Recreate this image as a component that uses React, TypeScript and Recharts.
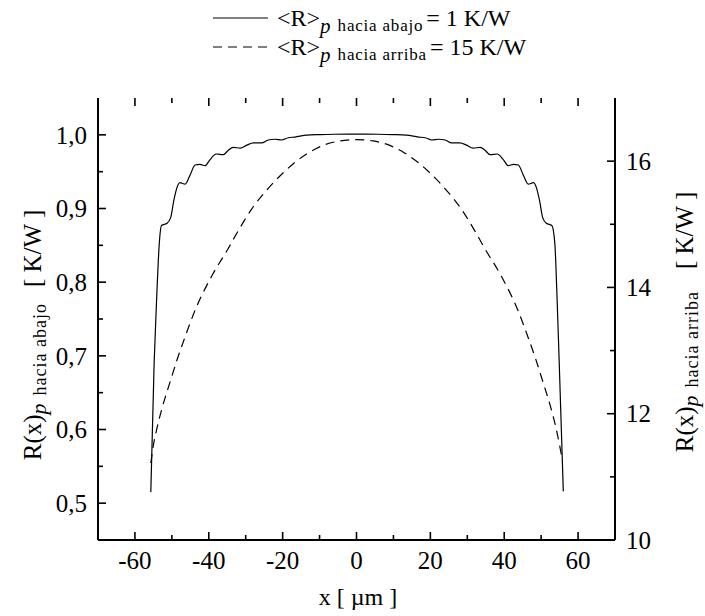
import { Customized, Line, LineChart, XAxis, YAxis } from "recharts"

// R(x) hacia abajo (eje izquierdo)
const xAbajo = [
	-55.7, -54.8, -54.1, -53.4, -52.8, -51.3, -50.3, -49.5, -48.7, -47.8, -46.4, -45.1, -43.7, -42.4, -41.0, -39.7, -38.0,
	-36.1, -34.7, -33.4, -31.5, -29.7, -27.9, -25.7, -23.9, -22.1, -20.3, -18.5, -16.7, -13.5, -10, -6, 0, 6, 10, 13.5,
	16.8, 18.6, 20.4, 22.2, 24.0, 25.8, 28.0, 29.8, 31.6, 33.5, 34.8, 36.2, 38.1, 39.8, 41.1, 42.5, 43.8, 45.2, 46.5, 47.9,
	48.8, 49.6, 50.4, 51.4, 52.9, 53.7, 54.3, 54.9, 56.0,
]
const rAbajo = [
	0.515, 0.69, 0.78, 0.853, 0.877, 0.88, 0.888, 0.91, 0.927, 0.935, 0.933, 0.945, 0.959, 0.96, 0.958, 0.966, 0.974, 0.973,
	0.979, 0.983, 0.982, 0.986, 0.989, 0.989, 0.993, 0.994, 0.993, 0.996, 0.997, 0.9995, 1.0003, 1.0008, 1.001, 1.0008,
	1.0003, 0.9995, 0.997, 0.996, 0.993, 0.994, 0.993, 0.989, 0.989, 0.986, 0.982, 0.983, 0.979, 0.973, 0.974, 0.966, 0.958,
	0.96, 0.959, 0.945, 0.933, 0.935, 0.927, 0.91, 0.888, 0.88, 0.877, 0.853, 0.78, 0.69, 0.516,
]

// R(x) hacia arriba (eje derecho)
const xArriba = [
	-55.7, -55.0, -54.0, -52.5, -50.5, -48.5, -46.4, -43.7, -39.2, -34.7, -32.0, -28.4, -23.9, -19.4, -17.1, -13.0, -9.0,
	-4.5, 0, 4.5, 9.0, 13.0, 17.1, 19.4, 23.9, 28.4, 32.0, 34.7, 39.2, 43.7, 46.4, 48.5, 50.5, 52.5, 54.0, 55.0, 55.8,
]
const rArriba = [
	11.22, 11.5, 11.78, 12.12, 12.5, 12.87, 13.22, 13.64, 14.18, 14.62, 14.9, 15.24, 15.57, 15.84, 15.96, 16.13, 16.25,
	16.32, 16.34, 16.32, 16.25, 16.13, 15.96, 15.84, 15.57, 15.24, 14.9, 14.62, 14.18, 13.64, 13.22, 12.87, 12.5, 12.12,
	11.78, 11.5, 11.25,
]

const xTicks = [-60, -50, -40, -30, -20, -10, 0, 10, 20, 30, 40, 50, 60]
const leftTicks = [0.5, 0.55, 0.6, 0.65, 0.7, 0.75, 0.8, 0.85, 0.9, 0.95, 1.0]
const rightTicks = [10, 11, 12, 13, 14, 15, 16]

const X_DOMAIN = [-70, 70]
const L_DOMAIN = [0.45, 1.05]
const R_DOMAIN = [10, 17]

const abajo = xAbajo.map((x, i) => ({ x, r: rAbajo[i] }))
const arriba = xArriba.map((x, i) => ({ x, r: rArriba[i] }))

const FONT = '"Liberation Serif", "Times New Roman", Times, serif'
const MARGIN = 11
const axisStyle = { stroke: "#000", strokeWidth: 2 }

// plot box that follows from the chart margins and axis sizes below
const W = 705
const H = 616
const TOP = 98
const LEFT_W = 98
const RIGHT_W = 90
const BOTTOM_H = 76
const PLOT = { left: LEFT_W, right: W - RIGHT_W, top: TOP, bottom: H - BOTTOM_H }

const MAJOR = 8
const MINOR = 5
const isMajorX = (v: number) => v % 20 === 0
const isMajorL = (v: number) => Math.round(v * 100) % 10 === 0
const isMajorR = (v: number) => v % 2 === 0

const lin = (d: number[], r0: number, r1: number) => (v: number) => r0 + ((v - d[0]) / (d[1] - d[0])) * (r1 - r0)
const sx = lin(X_DOMAIN, PLOT.left, PLOT.right)
const sL = lin(L_DOMAIN, PLOT.bottom, PLOT.top)
const sR = lin(R_DOMAIN, PLOT.bottom, PLOT.top)

function BottomTick(props: any) {
	const { x, y, payload } = props
	const v = payload.value
	if (!isMajorX(v)) return <g />
	return (
		<text x={x} y={y} dy="0.71em" textAnchor="middle" fontSize={25} fontFamily={FONT} fill="#000">
			{v}
		</text>
	)
}

function LeftTick(props: any) {
	const { x, y, payload } = props
	const v = payload.value
	if (!isMajorL(v)) return <g />
	return (
		<text x={x} y={y} dy="0.35em" textAnchor="end" fontSize={25} fontFamily={FONT} fill="#000">
			{v.toFixed(1).replace(".", ",")}
		</text>
	)
}

function RightTick(props: any) {
	const { x, y, payload } = props
	const v = payload.value
	if (!isMajorR(v)) return <g />
	return (
		<text x={x} y={y} dy="0.35em" textAnchor="start" fontSize={25} fontFamily={FONT} fill="#000">
			{v}
		</text>
	)
}

// inward tick marks on all four sides of the frame (overlay above the chart)
function TickMarks() {
	return (
		<svg
			width={W}
			height={H}
			style={{ position: "absolute", left: 0, top: 0, pointerEvents: "none" }}
		>
			<g stroke="#000" strokeWidth={1.6}>
				{xTicks.map((v) => {
					const len = isMajorX(v) ? MAJOR : MINOR
					return (
						<g key={`x${v}`}>
							<line x1={sx(v)} x2={sx(v)} y1={PLOT.bottom} y2={PLOT.bottom - len} />
							<line x1={sx(v)} x2={sx(v)} y1={PLOT.top} y2={PLOT.top + len} />
						</g>
					)
				})}
				{leftTicks.map((v) => (
					<line key={`l${v}`} x1={PLOT.left} x2={PLOT.left + (isMajorL(v) ? MAJOR : MINOR)} y1={sL(v)} y2={sL(v)} />
				))}
				{rightTicks.map((v) => (
					<line key={`r${v}`} x1={PLOT.right} x2={PLOT.right - (isMajorR(v) ? MAJOR : MINOR)} y1={sR(v)} y2={sR(v)} />
				))}
			</g>
		</svg>
	)
}

function Annotations() {
	return (
		<g fontFamily={FONT} fill="#000">
			{/* leyenda */}
			<line x1={213} x2={268} y1={18} y2={18} stroke="#000" strokeWidth={1.2} />
			<text x={277} y={26} fontSize={24}>
				{"<R>"}
				<tspan fontStyle="italic" fontSize={21} dy={7}>p</tspan>
				<tspan fontSize={17} letterSpacing={0.8} dx={7} dy={-2}>hacia abajo</tspan>
				<tspan fontSize={24} dx={3} dy={-5}>= 1 K/W</tspan>
			</text>
			<line x1={213} x2={268} y1={47} y2={47} stroke="#000" strokeWidth={1.2} strokeDasharray="9 6" />
			<text x={277} y={55} fontSize={24}>
				{"<R>"}
				<tspan fontStyle="italic" fontSize={21} dy={7}>p</tspan>
				<tspan fontSize={17} letterSpacing={0.8} dx={7} dy={-2}>hacia arriba</tspan>
				<tspan fontSize={24} dx={3} dy={-5}>= 15 K/W</tspan>
			</text>

			{/* títulos de ejes */}
			<text x={358} y={605} textAnchor="middle" fontSize={24}>
				x [ µm ]
			</text>
			<text x={335} y={41} transform="rotate(-90 0 0) translate(-670 0)" textAnchor="middle" fontSize={25}>
				R(x)
				<tspan fontStyle="italic" fontSize={22} dy={5}>p</tspan>
				<tspan fontSize={18} letterSpacing={1} dx={8}>hacia abajo</tspan>
				<tspan fontSize={25} dx={16} dy={-5}>[ K/W ]</tspan>
			</text>
			<text x={322} y={693} transform="rotate(-90 0 0) translate(-644 0)" textAnchor="middle" fontSize={25}>
				R(x)
				<tspan fontStyle="italic" fontSize={22} dy={5}>p</tspan>
				<tspan fontSize={18} letterSpacing={1} dx={8}>hacia arriba</tspan>
				<tspan fontSize={25} dx={22} dy={-5}>[ K/W ]</tspan>
			</text>
		</g>
	)
}

export default function App() {
	return (
		<div style={{ position: "absolute", left: 0, top: 0, width: W, height: H, background: "#fff" }}>
			<LineChart width={W} height={H} margin={{ top: TOP, right: 0, bottom: 0, left: 0 }}>
				<XAxis
					xAxisId="b"
					dataKey="x"
					type="number"
					domain={X_DOMAIN}
					ticks={xTicks}
					interval={0}
					height={BOTTOM_H}
					tickSize={0}
					tickMargin={MARGIN}
					tickLine={false}
					tick={<BottomTick />}
					axisLine={axisStyle}
					allowDataOverflow
				/>
				<XAxis
					xAxisId="t"
					orientation="top"
					dataKey="x"
					type="number"
					domain={X_DOMAIN}
					ticks={xTicks}
					interval={0}
					height={0}
					tickSize={0}
					tickLine={false}
					tick={false}
					axisLine={axisStyle}
					allowDataOverflow
				/>
				<YAxis
					yAxisId="L"
					type="number"
					domain={L_DOMAIN}
					ticks={leftTicks}
					interval={0}
					width={LEFT_W}
					tickSize={0}
					tickMargin={MARGIN}
					tickLine={false}
					tick={<LeftTick />}
					axisLine={axisStyle}
					allowDataOverflow
				/>
				<YAxis
					yAxisId="R"
					orientation="right"
					type="number"
					domain={R_DOMAIN}
					ticks={rightTicks}
					interval={0}
					width={RIGHT_W}
					tickSize={0}
					tickMargin={MARGIN}
					tickLine={false}
					tick={<RightTick />}
					axisLine={axisStyle}
					allowDataOverflow
				/>
				<Line
					data={abajo}
					xAxisId="b"
					yAxisId="L"
					dataKey="r"
					type="monotone"
					stroke="#000"
					strokeWidth={1.2}
					dot={false}
					isAnimationActive={false}
				/>
				<Line
					data={arriba}
					xAxisId="b"
					yAxisId="R"
					dataKey="r"
					type="monotone"
					stroke="#000"
					strokeWidth={1.2}
					strokeDasharray="9 6"
					dot={false}
					isAnimationActive={false}
				/>
				<Customized component={Annotations} />
			</LineChart>
			<TickMarks />
		</div>
	)
}
